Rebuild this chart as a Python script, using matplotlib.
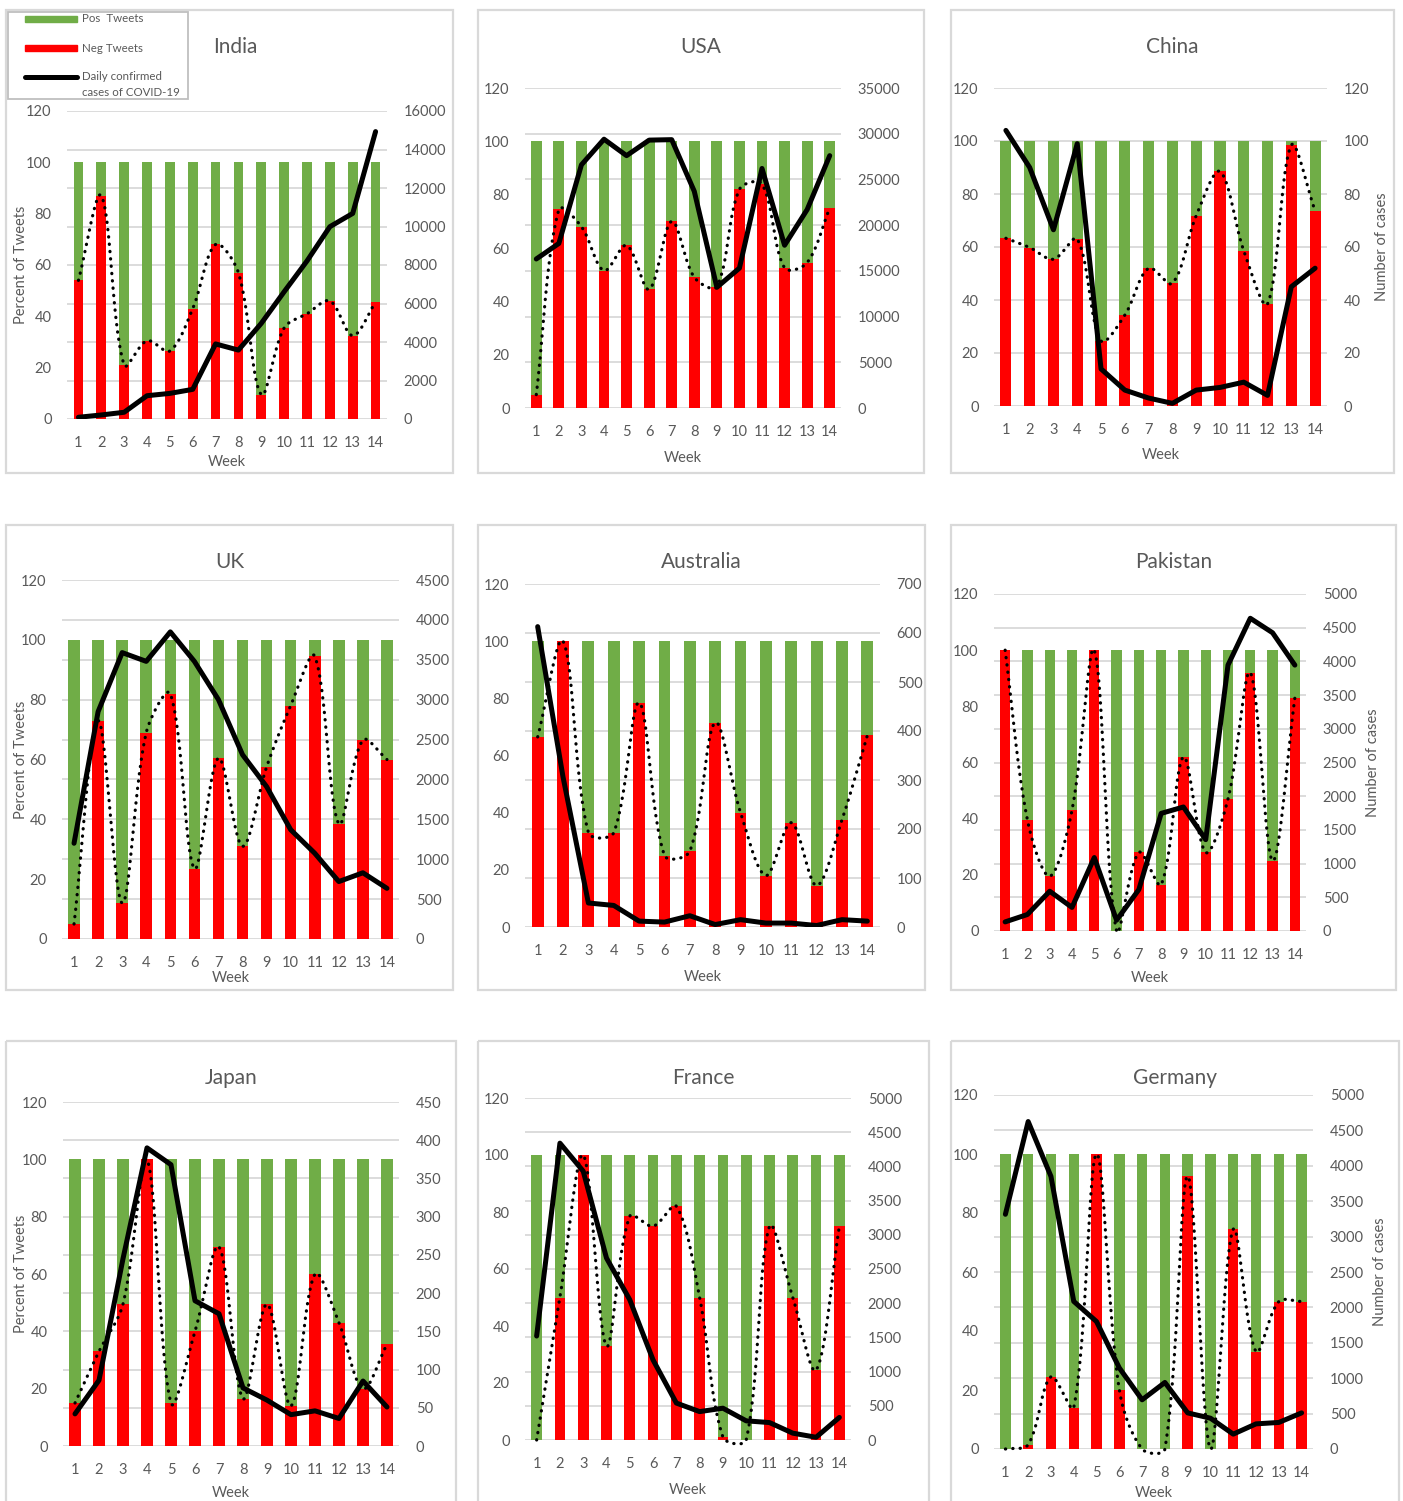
import matplotlib.pyplot as plt
import numpy as np
from matplotlib.patches import Rectangle
from matplotlib.lines import Line2D
from matplotlib.transforms import Affine2D

plt.rcParams['font.family'] = ['Lato', 'DejaVu Sans']

W, H = 1403, 1501
TXT = '#595959'
GRID = '#d9d9d9'
GREEN = '#70ad47'
RED = '#ff0000'

weeks = np.arange(1, 15)

# share of negative tweets per week (%), positive share is the rest
india_neg = [54, 87, 21, 30.5, 26.5, 43, 68, 57, 9.5, 35.5, 41, 46, 32.5, 45.5]
usa_neg = [5, 74.5, 68, 51.5, 61, 44.5, 70, 49, 45.5, 82, 84, 52.5, 54.5, 75]
china_neg = [63.3, 59.8, 55.4, 63, 24.6, 34.3, 52, 46.3, 71.8, 88.5, 58.6, 38.5, 98.4, 73.6]
uk_neg = [5, 73, 12, 69, 82, 23.5, 60.5, 31, 57.5, 78, 94.5, 38.5, 66.5, 60]
australia_neg = [66.5, 100, 33, 33, 78.5, 25, 26.5, 71.5, 40, 18, 36.5, 14.5, 37.5, 67]
pakistan_neg = [100, 39.5, 19.5, 43, 100, 0, 28, 16.5, 62, 28, 47, 92, 25, 83]
japan_neg = [15, 33, 49.5, 100, 15, 40, 69.5, 16.5, 49.5, 14, 60, 43, 20, 35.5]
france_neg = [0, 50, 100, 33, 78.5, 75, 82, 50, 1, 0, 75, 50, 24.5, 75]
germany_neg = [0, 1.5, 24.5, 14, 100, 20, 0, 0, 92.5, 0, 74.5, 33, 50, 50]

# daily confirmed cases of COVID-19
india_cases = [90, 210, 350, 1210, 1330, 1540, 3900, 3580, 4970, 6610, 8210, 9990, 10680, 14930]
usa_cases = [16300, 18000, 26600, 29400, 27600, 29300, 29350, 23700, 13200, 15300, 26200, 17800, 21700, 27600]
china_cases = [104, 90, 66.5, 99, 14, 6, 3, 1, 6, 7, 9, 4, 45, 52]
uk_cases = [1200, 2850, 3590, 3480, 3850, 3480, 3000, 2310, 1910, 1370, 1075, 720, 830, 635]
australia_cases = [613, 306, 49, 44, 12, 10, 23, 5, 15, 8, 8, 3, 15, 12]
pakistan_cases = [135, 245, 590, 350, 1090, 160, 615, 1745, 1840, 1355, 3945, 4640, 4425, 3945]
japan_cases = [42, 86, 245, 390, 368, 190, 173, 76, 60, 41, 46, 36, 85, 51]
france_cases = [1520, 4340, 3930, 2660, 2050, 1170, 540, 415, 465, 280, 255, 100, 40, 330]
germany_cases = [3315, 4625, 3850, 2085, 1800, 1145, 695, 940, 510, 435, 210, 355, 375, 510]

countries = ['India', 'USA', 'China', 'UK', 'Australia', 'Pakistan', 'Japan', 'France', 'Germany']
neg_all = [india_neg, usa_neg, china_neg, uk_neg, australia_neg, pakistan_neg,
           japan_neg, france_neg, germany_neg]
cases_all = [india_cases, usa_cases, china_cases, uk_cases, australia_cases,
             pakistan_cases, japan_cases, france_cases, germany_cases]
cases_max = [16000, 35000, 120, 4500, 700, 5000, 450, 5000, 5000]
cases_step = [2000, 5000, 20, 500, 100, 500, 50, 500, 500]

# pixel layout: frame box (x0, y0, x1, y1), plot area (left, top, right, bottom)
boxes = [(6, 10, 453, 473), (478, 10, 924, 473), (951, 10, 1394, 473),
         (6, 525, 453, 990), (478, 525, 925, 990), (951, 525, 1396, 990),
         (6, 1041, 456, 1530), (478, 1041, 929, 1530), (951, 1041, 1399, 1530)]
plots = [(67, 111, 387, 419), (525, 88, 841, 408), (994, 88, 1327, 406),
         (62, 580, 399, 939), (525, 584, 880, 927), (994, 594, 1306, 931),
         (63, 1102, 399, 1446), (525, 1098, 851, 1440), (994, 1095, 1313, 1449)]
title_dx = [6, 0, 0, 0, 0, 0, 0, 0, 0]
week_y = [462, 458, 455, 978, 977, 978, 1493, 1490, 1493]
cases_label_x = {2: 1382, 5: 1373, 8: 1380}
bar_w = [0.42, 0.48, 0.47, 0.48, 0.47, 0.46, 0.47, 0.46, 0.46]


def smooth(x, y, sx, sy, n=30):
    # Bezier smoothing like a spreadsheet "smoothed line"; tangents are
    # scaled by the on-screen segment lengths so short hops don't overshoot
    x = np.asarray(x, float)
    y = np.asarray(y, float)
    px = np.concatenate([[x[0]], x, [x[-1]]])
    py = np.concatenate([[y[0]], y, [y[-1]]])

    def dist(i, j):
        return np.hypot((px[j] - px[i]) * sx, (py[j] - py[i]) * sy)

    t = np.linspace(0, 1, n)
    xs, ys = [], []
    for i in range(1, len(px) - 2):
        d01, d12, d23 = dist(i - 1, i), dist(i, i + 1), dist(i + 1, i + 2)
        f = d12 / (d01 + d12) / 3 if d01 + d12 > 0 else 0
        g = d12 / (d12 + d23) / 3 if d12 + d23 > 0 else 0
        pts = []
        for p in (px, py):
            b0 = p[i]
            b1 = p[i] + (p[i + 1] - p[i - 1]) * f
            b2 = p[i + 1] - (p[i + 2] - p[i]) * g
            b3 = p[i + 1]
            pts.append((1 - t) ** 3 * b0 + 3 * (1 - t) ** 2 * t * b1
                       + 3 * (1 - t) * t ** 2 * b2 + t ** 3 * b3)
        xs.append(pts[0])
        ys.append(pts[1])
    return np.concatenate(xs), np.concatenate(ys)


fig = plt.figure(figsize=(W / 100, H / 100), dpi=100)
pix = Affine2D().scale(1 / W, -1 / H).translate(0, 1) + fig.transFigure

for k, name in enumerate(countries):
    x0, y0, x1, y1 = boxes[k]
    fig.add_artist(Rectangle((x0, y0), x1 - x0, y1 - y0, transform=pix,
                             fill=False, edgecolor=GRID, lw=1.6, zorder=0))
    l, t, r, b = plots[k]
    ax = fig.add_axes([l / W, 1 - b / H, (r - l) / W, (b - t) / H])
    ax2 = ax.twinx()

    neg = np.array(neg_all[k])
    pos = 100 - neg
    top = cases_max[k]
    rticks = np.arange(0, top + 1, cases_step[k])

    for v in rticks:
        ax.axhline(v * 120 / top, color=GRID, lw=1.3, zorder=0)
    ax.bar(weeks, neg, width=bar_w[k], color=RED, zorder=2)
    ax.bar(weeks, pos, width=bar_w[k], bottom=neg, color=GREEN, zorder=2)
    cx, cy = smooth(weeks, neg, (r - l) / 14, (b - t) / 120)
    ax.plot(cx, cy, color='black', lw=2.3, ls=(0, (0.1, 2.2)),
            dash_capstyle='round', clip_on=False, zorder=3)
    ax2.plot(weeks, cases_all[k], color='black', lw=3.6,
             solid_capstyle='round', solid_joinstyle='round', zorder=4)

    ax.set_xlim(0.5, 14.5)
    ax.set_ylim(0, 120)
    ax.set_yticks(np.arange(0, 121, 20))
    ax.set_xticks(weeks)
    ax2.set_ylim(0, top)
    ax2.set_yticks(rticks)
    for a in (ax, ax2):
        for s in a.spines.values():
            s.set_visible(False)
        a.tick_params(length=0, colors=TXT, labelsize=10.5)
    ax.tick_params(axis='y', pad=11)
    ax2.tick_params(axis='y', pad=12)
    ax.tick_params(axis='x', pad=12)

    fig.text(((x0 + x1) / 2 + title_dx[k]) / W, 1 - (y0 + 37) / H, name,
             ha='center', va='center', fontsize=15, color=TXT)
    fig.text((l + r) / 2 / W, 1 - week_y[k] / H, 'Week', ha='center', va='center',
             fontsize=10.5, color=TXT)
    if k % 3 == 0:
        fig.text(21 / W, 1 - (t + b) / 2 / H, 'Percent of Tweets', rotation=90,
                 ha='center', va='center', fontsize=10.5, color=TXT)
    if k in cases_label_x:
        fig.text(cases_label_x[k] / W, 1 - (t + b) / 2 / H, 'Number of cases',
                 rotation=90, ha='center', va='center', fontsize=10.5, color=TXT)

# legend box in the India panel
fig.add_artist(Rectangle((8, 12), 180, 87, transform=pix, facecolor='white',
                         edgecolor='#bfbfbf', lw=1.3, zorder=5))
fig.add_artist(Rectangle((25, 16), 52, 6, transform=pix, color=GREEN, zorder=6))
fig.add_artist(Rectangle((25, 45), 52, 6, transform=pix, color=RED, zorder=6))
fig.add_artist(Line2D([25, 77], [77, 77], transform=pix, color='black', lw=3.6,
                      solid_capstyle='round', zorder=6))
leg_txt = [('Pos  Tweets', 19), ('Neg Tweets', 48), ('Daily confirmed', 77),
           ('cases of COVID-19', 93)]
for s, yy in leg_txt:
    fig.text(82 / W, 1 - yy / H, s, ha='left', va='center', fontsize=8.3,
             color=TXT, zorder=7)

fig.savefig('out.png', dpi=100, facecolor='white')
